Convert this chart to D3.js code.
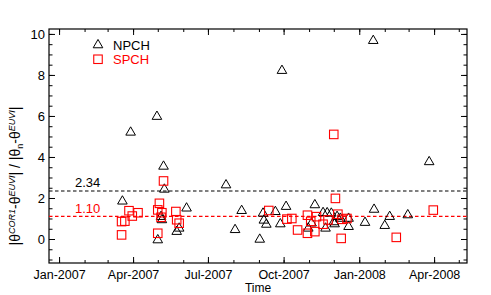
<!DOCTYPE html>
<html>
<head>
<meta charset="utf-8">
<script src="https://cdn.jsdelivr.net/npm/d3@7"></script>
<style>
  body { margin: 0; background: #fff; }
  svg text { font-family: "Liberation Sans", Arial, Helvetica, sans-serif; }
</style>
</head>
<body>
<div id="chart"></div>
<script>
// NPCH (triangles): dates and ratio values
const npchDates = ["2007-03-29","2007-04-30","2007-05-08","2007-05-09","2007-03-19","2007-05-05","2007-05-06","2007-05-01",
    "2007-05-24","2007-05-27","2007-06-05","2007-07-23","2007-08-11","2007-08-03","2007-09-02","2007-09-06",
    "2007-09-07","2007-09-10","2007-09-21","2007-09-27","2007-09-29","2007-10-04","2007-11-08","2007-10-31",
    "2007-11-04","2007-11-18","2007-11-23","2007-11-28","2007-11-21","2007-12-01","2007-12-02","2007-12-05",
    "2007-12-09","2007-12-19","2007-12-19","2008-01-08","2008-01-19","2008-01-18","2008-02-01","2008-02-07",
    "2008-02-29","2008-03-26"];
const npchValues = [5.2, 5.97, 3.54, 2.42, 1.84, 1.09, 0.93, -0.05,
    0.36, 0.52, 1.5, 2.63, 1.38, 0.45, -0.02, 1.25,
    0.91, 0.71, 1.33, 0.73, 8.21, 1.58, 1.66, 0.52,
    0.77, 1.28, 1.27, 1.25, 0.52, 0.83, 0.73, 1.09,
    1.0, 1.0, 0.6, 0.8, 1.44, 9.67, 0.65, 1.09,
    1.17, 3.76];

// SPCH (squares)
const spchDates = ["2007-03-18","2007-03-18","2007-03-22","2007-03-27","2007-03-31","2007-04-07","2007-05-01","2007-05-03",
    "2007-05-06","2007-05-05","2007-05-01","2007-05-08","2007-05-23","2007-05-24","2007-05-27","2007-09-13",
    "2007-10-05","2007-10-11","2007-10-18","2007-10-30","2007-10-30","2007-11-03","2007-11-08","2007-11-10",
    "2007-11-18","2007-11-24","2007-12-01","2007-12-03","2007-12-06","2007-12-11","2007-12-17","2007-12-10",
    "2008-02-15","2008-03-31"];
const spchValues = [0.2, 0.85, 0.87, 1.38, 1.12, 1.28, 1.42, 1.74,
    1.28, 1.06, 0.28, 2.83, 1.34, 0.94, 0.77, 1.39,
    0.97, 1.0, 0.44, 1.16, 0.28, 0.86, 0.36, 1.09,
    0.72, 0.93, 5.1, 1.98, 1.21, 0.96, 1.0, 0.03,
    0.08, 1.41];

// mean levels
const meanValues = [2.34, 1.10];
const meanLabels = ["2.34", "1.10"];
const meanColors = ["#000", "#ff0000"];

const yTicks = [0, 2, 4, 6, 8, 10];

const W = 491, H = 295;
const margin = {left: 49, top: 29, right: 24, bottom: 32};
const iw = W - margin.left - margin.right;
const ih = H - margin.top - margin.bottom;

const parse = d3.utcParse("%Y-%m-%d");
const npch = npchDates.map((d, i) => ({date: parse(d), v: npchValues[i]}));
const spch = spchDates.map((d, i) => ({date: parse(d), v: spchValues[i]}));

const svg = d3.select("#chart").append("svg")
    .attr("width", W)
    .attr("height", H);

const g = svg.append("g")
    .attr("transform", "translate(" + margin.left + "," + margin.top + ")");

const x = d3.scaleUtc()
    .domain([new Date(Date.UTC(2006, 11, 19, 18)), new Date(Date.UTC(2008, 4, 11))])
    .range([0, iw]);

const y = d3.scaleLinear()
    .domain([-1.17, 10.24])
    .range([ih, 0]);

const minorMonths = x.ticks(d3.utcMonth.every(1));
const majorMonths = x.ticks(d3.utcMonth.every(3));
const minorY = d3.range(-1, 10.01, 0.5);
const fmt = d3.utcFormat("%b-%Y");

// axes: ticks point inward on all four sides
const bottomAxis = d3.axisBottom(x).tickValues(majorMonths).tickSize(-6).tickPadding(7).tickFormat(fmt);
const bottomMinor = d3.axisBottom(x).tickValues(minorMonths).tickSize(-3).tickFormat("");
const topAxis = d3.axisTop(x).tickValues(majorMonths).tickSize(-6).tickFormat("");
const topMinor = d3.axisTop(x).tickValues(minorMonths).tickSize(-3).tickFormat("");
const leftAxis = d3.axisLeft(y).tickValues(yTicks).tickSize(-6).tickPadding(4).tickFormat(d3.format("d"));
const leftMinor = d3.axisLeft(y).tickValues(minorY).tickSize(-3.5).tickFormat("");
const rightAxis = d3.axisRight(y).tickValues(yTicks).tickSize(-6).tickFormat("");
const rightMinor = d3.axisRight(y).tickValues(minorY).tickSize(-3.5).tickFormat("");

function styleAxis(sel, fs) {
    sel.select(".domain").remove();
    sel.selectAll("line").attr("stroke", "#000").attr("stroke-width", 1);
    sel.selectAll("text").attr("font-size", fs || 13).attr("fill", "#000")
        .attr("font-family", "'Liberation Sans', Arial, sans-serif");
}

g.append("g").attr("transform", "translate(0," + ih + ")").call(bottomAxis).call(styleAxis, 12.5);
g.append("g").attr("transform", "translate(0," + ih + ")").call(bottomMinor).call(styleAxis);
g.append("g").call(topAxis).call(styleAxis);
g.append("g").call(topMinor).call(styleAxis);
g.append("g").call(leftAxis).call(styleAxis);
g.append("g").call(leftMinor).call(styleAxis);
g.append("g").attr("transform", "translate(" + iw + ",0)").call(rightAxis).call(styleAxis);
g.append("g").attr("transform", "translate(" + iw + ",0)").call(rightMinor).call(styleAxis);

g.append("rect")
    .attr("width", iw)
    .attr("height", ih)
    .attr("fill", "none")
    .attr("stroke", "#000")
    .attr("stroke-width", 1.2);

// mean lines
g.selectAll(".mean")
    .data(meanValues)
    .join("line")
    .attr("x1", 0)
    .attr("x2", iw)
    .attr("y1", d => y(d))
    .attr("y2", d => y(d))
    .attr("stroke", (d, i) => meanColors[i])
    .attr("stroke-width", 1.2)
    .attr("stroke-dasharray", "3.5,2.5");

g.selectAll(".meanlab")
    .data(meanValues)
    .join("text")
    .attr("x", 26)
    .attr("y", (d, i) => y(d) - (i == 0 ? 4 : 3))
    .attr("font-size", 13)
    .attr("fill", (d, i) => meanColors[i])
    .text((d, i) => meanLabels[i]);

// markers
const tri = d3.symbol().type(d3.symbolTriangle).size(40);

g.selectAll(".tri")
    .data(npch)
    .join("path")
    .attr("d", tri)
    .attr("transform", d => "translate(" + x(d.date) + "," + y(d.v) + ")")
    .attr("fill", "none")
    .attr("stroke", "#000")
    .attr("stroke-width", 1);

const sq = 8.5;
g.selectAll(".sq")
    .data(spch)
    .join("rect")
    .attr("x", d => x(d.date) - sq / 2)
    .attr("y", d => y(d.v) - sq / 2)
    .attr("width", sq)
    .attr("height", sq)
    .attr("fill", "none")
    .attr("stroke", "#ff0000")
    .attr("stroke-width", 1.1);

// legend
const legend = g.append("g").attr("transform", "translate(49,16)");
legend.append("path")
    .attr("d", tri)
    .attr("fill", "none")
    .attr("stroke", "#000");
legend.append("text")
    .attr("x", 15).attr("y", 5)
    .attr("font-size", 13)
    .text("NPCH");
legend.append("rect")
    .attr("x", -4.25).attr("y", 14.25 - 4.25)
    .attr("width", sq).attr("height", sq)
    .attr("fill", "none")
    .attr("stroke", "#ff0000")
    .attr("stroke-width", 1.1);
legend.append("text")
    .attr("x", 15).attr("y", 19)
    .attr("font-size", 13)
    .attr("fill", "#ff0000")
    .text("SPCH");

// axis titles
svg.append("text")
    .attr("x", margin.left + iw / 2)
    .attr("y", 292.3)
    .attr("text-anchor", "middle")
    .attr("font-size", 12)
    .text("Time");

const yl = svg.append("text")
    .attr("transform", "translate(20,176) rotate(-90)")
    .attr("text-anchor", "middle")
    .attr("font-size", 14);
yl.append("tspan").text("|θ");
yl.append("tspan").attr("font-size", 9).attr("font-style", "italic").attr("dy", -5).text("COR1");
yl.append("tspan").attr("dy", 5).text("-θ");
yl.append("tspan").attr("font-size", 9).attr("font-style", "italic").attr("dy", -5).text("EUVI");
yl.append("tspan").attr("dy", 5).text("| / |θ");
yl.append("tspan").attr("font-size", 9).attr("dy", 3).text("n");
yl.append("tspan").attr("dy", -3).text("-θ");
yl.append("tspan").attr("font-size", 9).attr("font-style", "italic").attr("dy", -5).text("EUVI");
yl.append("tspan").attr("dy", 5).text("|");
</script>
</body>
</html>
